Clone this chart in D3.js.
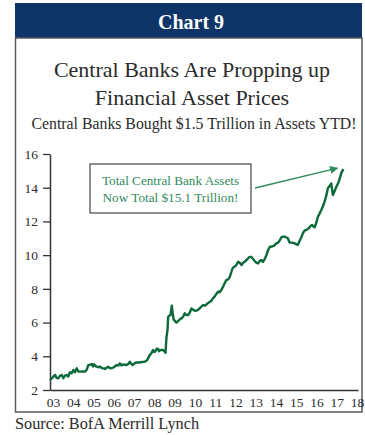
<!DOCTYPE html>
<html>
<head>
<meta charset="utf-8">
<script src="https://cdn.jsdelivr.net/npm/d3@7"></script>
<style>
  html, body { margin: 0; padding: 0; background: #fff; }
  svg { display: block; }
  text { font-family: "Liberation Serif", "DejaVu Serif", serif; }
</style>
</head>
<body>
<svg id="chart" width="365" height="435"></svg>
<script>
// Total central bank assets, trillions of US$, by decimal year
const years = [
  2002.85, 2002.95, 2003.05, 2003.10, 2003.18, 2003.26, 2003.35, 2003.43, 2003.51, 2003.59,
  2003.67, 2003.75, 2003.84, 2003.92, 2004.00, 2004.08, 2004.17, 2004.25, 2004.35, 2004.45,
  2004.58, 2004.66, 2004.74, 2004.82, 2004.91, 2004.97, 2005.02, 2005.12, 2005.23, 2005.33,
  2005.41, 2005.50, 2005.56, 2005.64, 2005.72, 2005.80, 2005.89, 2006.00, 2006.14, 2006.22,
  2006.30, 2006.38, 2006.45, 2006.55, 2006.63, 2006.72, 2006.79, 2006.86, 2006.93, 2007.02,
  2007.12, 2007.25, 2007.40, 2007.53, 2007.65, 2007.72, 2007.78, 2007.86, 2007.94, 2008.00,
  2008.05, 2008.12, 2008.19, 2008.23, 2008.27, 2008.35, 2008.43, 2008.50, 2008.55, 2008.60,
  2008.65, 2008.68, 2008.74, 2008.80, 2008.86, 2008.90, 2008.95, 2009.01, 2009.09, 2009.18,
  2009.26, 2009.34, 2009.42, 2009.50, 2009.58, 2009.67, 2009.75, 2009.83, 2009.92, 2010.00,
  2010.12, 2010.24, 2010.32, 2010.40, 2010.50, 2010.59, 2010.70, 2010.82, 2010.90, 2010.98,
  2011.06, 2011.14, 2011.22, 2011.31, 2011.40, 2011.47, 2011.55, 2011.64, 2011.72, 2011.80,
  2011.86, 2011.92, 2012.00, 2012.06, 2012.14, 2012.21, 2012.30, 2012.38, 2012.46, 2012.58,
  2012.70, 2012.78, 2012.85, 2012.95, 2013.03, 2013.11, 2013.20, 2013.28, 2013.36, 2013.46,
  2013.53, 2013.61, 2013.70, 2013.77, 2013.90, 2014.02, 2014.10, 2014.20, 2014.27, 2014.35,
  2014.43, 2014.51, 2014.59, 2014.67, 2014.80, 2014.92, 2015.00, 2015.08, 2015.17, 2015.25,
  2015.33, 2015.41, 2015.50, 2015.58, 2015.66, 2015.72, 2015.79, 2015.85, 2015.91, 2016.00,
  2016.07, 2016.15, 2016.24, 2016.32, 2016.40, 2016.48, 2016.56, 2016.65, 2016.73, 2016.77,
  2016.81, 2016.90, 2016.98, 2017.04, 2017.10, 2017.16, 2017.22, 2017.28, 2017.33
];
const assets = [
  2.59, 2.70, 2.85, 2.89, 2.72, 2.69, 2.85, 2.89, 2.70, 2.85,
  2.89, 2.80, 3.05, 3.00, 3.19, 3.05, 3.29, 3.10, 3.09, 3.10,
  3.09, 3.20, 3.48, 3.50, 3.54, 3.40, 3.52, 3.40, 3.35, 3.38,
  3.30, 3.28, 3.25, 3.32, 3.38, 3.30, 3.29, 3.35, 3.48, 3.45,
  3.58, 3.45, 3.52, 3.50, 3.48, 3.55, 3.68, 3.55, 3.48, 3.58,
  3.64, 3.63, 3.66, 3.68, 3.78, 3.95, 4.08, 4.20, 4.37, 4.25,
  4.30, 4.45, 4.43, 4.30, 4.35, 4.38, 4.37, 4.30, 4.21, 5.16,
  5.56, 6.35, 6.40, 6.45, 7.00, 6.60, 6.20, 6.10, 6.00, 6.10,
  6.19, 6.25, 6.35, 6.55, 6.45, 6.45, 6.60, 6.84, 6.75, 6.70,
  6.72, 6.85, 6.95, 7.04, 7.00, 7.10, 7.20, 7.30, 7.45, 7.55,
  7.70, 7.83, 7.80, 7.95, 8.15, 8.33, 8.52, 8.56, 8.70, 9.00,
  9.22, 9.30, 9.35, 9.45, 9.61, 9.55, 9.41, 9.55, 9.61, 9.75,
  9.90, 9.90, 9.80, 9.65, 9.55, 9.51, 9.65, 9.71, 9.60, 9.80,
  10.00, 10.30, 10.50, 10.50, 10.55, 10.70, 10.74, 10.90, 11.06, 11.10,
  11.10, 11.05, 11.00, 10.75, 10.74, 10.70, 10.65, 10.60, 10.85, 11.05,
  11.30, 11.45, 11.50, 11.55, 11.65, 11.75, 11.79, 11.70, 11.65, 11.95,
  12.28, 12.45, 12.68, 12.90, 13.17, 13.50, 13.96, 14.10, 14.25, 13.90,
  13.57, 13.80, 14.06, 14.20, 14.36, 14.60, 14.85, 15.00, 15.10
];
const yTicks = [2, 4, 6, 8, 10, 12, 14, 16];
const xTicks = [2003, 2004, 2005, 2006, 2007, 2008, 2009, 2010, 2011, 2012, 2013, 2014, 2015, 2016, 2017, 2018];

const chartLabel = "Chart 9";
const titleLines = ["Central Banks Are Propping up", "Financial Asset Prices"];
const subtitle = "Central Banks Bought $1.5 Trillion in Assets YTD!";
const noteLines = ["Total Central Bank Assets", "Now Total $15.1 Trillion!"];
const source = "Source: BofA Merrill Lynch";

const svg = d3.select("#chart");
const ink = "#2b2b2b";
const lineGreen = "#0c6a3a";
const noteGreen = "#2f8a5b";

// Panel frame and navy header
svg.append("rect").attr("x", 15).attr("y", 3).attr("width", 347).attr("height", 35).attr("fill", "#0e3468");
svg.append("rect").attr("x", 15.5).attr("y", 38).attr("width", 346.5).attr("height", 374)
  .attr("fill", "none").attr("stroke", "#5a5a5a").attr("stroke-width", 1.5);
svg.append("text").attr("x", 191).attr("y", 29).attr("text-anchor", "middle")
  .attr("fill", "#fff").attr("font-weight", "bold").attr("font-size", 20).text(chartLabel);

// Titles
svg.selectAll("text.title").data(titleLines).join("text").attr("class", "title")
  .attr("x", 192).attr("y", (d, i) => 77 + i * 28).attr("text-anchor", "middle")
  .attr("fill", ink).attr("font-size", 22).text(d => d);
svg.append("text").attr("x", 194).attr("y", 129).attr("text-anchor", "middle")
  .attr("fill", ink).attr("font-size", 15.8).text(subtitle);

// Scales
const x = d3.scaleLinear().domain([2002.85, 2018.05]).range([50, 358]);
const y = d3.scaleLinear().domain([2, 16]).range([390, 154]);

// Axes
const yAxis = svg.append("g").attr("transform", "translate(50,0)")
  .call(d3.axisLeft(y).tickValues(yTicks).tickSize(7).tickSizeOuter(0).tickPadding(5));
const xAxis = svg.append("g").attr("transform", "translate(0,390)")
  .call(d3.axisBottom(x).tickValues(xTicks).tickSize(0).tickPadding(7)
    .tickFormat(d => String(d).slice(2)));
[yAxis, xAxis].forEach(g => {
  g.selectAll("path.domain").attr("stroke", "#333").attr("stroke-width", 1.5);
  g.selectAll("line").attr("stroke", "#333").attr("stroke-width", 1.3);
  g.selectAll("text").attr("fill", ink).attr("font-size", 13.5)
    .attr("font-family", "'Liberation Serif', 'DejaVu Serif', serif");
});

// Asset line
const pts = years.map((t, i) => [t, assets[i]]);
svg.append("path").datum(pts)
  .attr("fill", "none").attr("stroke", lineGreen).attr("stroke-width", 2.4)
  .attr("stroke-linejoin", "round")
  .attr("d", d3.line().x(d => x(d[0])).y(d => y(d[1])));

// Annotation box, text and arrow to the latest value
svg.append("rect").attr("x", 90).attr("y", 164).attr("width", 161).attr("height", 49)
  .attr("fill", "#fff").attr("stroke", "#444").attr("stroke-width", 1.2);
svg.selectAll("text.note").data(noteLines).join("text").attr("class", "note")
  .attr("x", 170.5).attr("y", (d, i) => 185 + i * 17).attr("text-anchor", "middle")
  .attr("fill", noteGreen).attr("font-size", 13.2).text(d => d);

svg.append("defs").append("marker").attr("id", "head")
  .attr("viewBox", "0 0 10 10").attr("refX", 9).attr("refY", 5)
  .attr("markerWidth", 9).attr("markerHeight", 8).attr("markerUnits", "userSpaceOnUse")
  .attr("orient", "auto")
  .append("path").attr("d", "M0,0 L10,5 L0,10 Z").attr("fill", noteGreen);
const last = pts[pts.length - 1];
svg.append("line").attr("x1", 255).attr("y1", 188)
  .attr("x2", x(last[0]) - 6).attr("y2", y(last[1]) - 1)
  .attr("stroke", noteGreen).attr("stroke-width", 1.3).attr("marker-end", "url(#head)");

// Source line
svg.append("text").attr("x", 15).attr("y", 429).attr("fill", ink)
  .attr("font-size", 16.3).text(source);
</script>
</body>
</html>
